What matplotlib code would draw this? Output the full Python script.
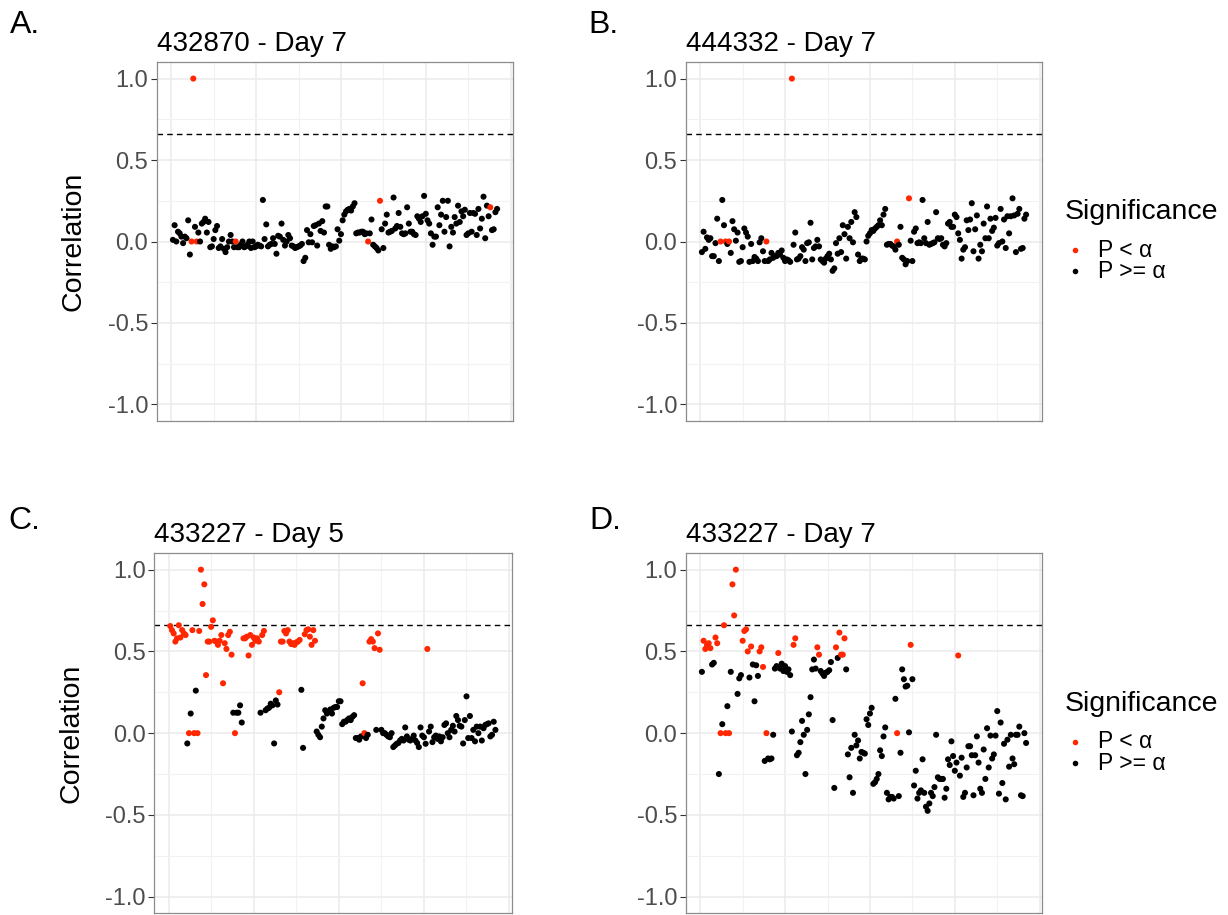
import matplotlib
matplotlib.use("Agg")
import matplotlib.pyplot as plt
from matplotlib.lines import Line2D
import numpy as np

plt.rcParams['font.family'] = ['Liberation Sans', 'DejaVu Sans']

# ---------------- data ----------------
titles = ["432870 - Day 7", "444332 - Day 7", "433227 - Day 5", "433227 - Day 7"]
panel_tags = ["A.", "B.", "C.", "D."]
threshold = 0.66
y_label = "Correlation"
legend_title = "Significance"
legend_labels = ["P < \u03b1", "P >= \u03b1"]

corr_a = [0.01, 0.10, 0.00, 0.06, 0.05, 0.03, -0.01, 0.03, 0.02, 0.13,
          -0.08, 0.00, 1.00, 0.09, 0.00, 0.055, 0.00, 0.11, 0.12, 0.14,
          0.055, 0.12, -0.035, -0.03, 0.015, 0.07, 0.095, -0.04, -0.03, 0.015,
          -0.045, -0.065, -0.035, 0.0, 0.04, 0.0, -0.035, 0.0, -0.035, -0.035,
          -0.02, 0.0, -0.035, -0.03, -0.02, 0.0, -0.04, 0.0, -0.035, -0.03,
          -0.02, -0.025, -0.03, 0.255, 0.015, 0.105, -0.03, -0.02, -0.015, 0.02,
          -0.015, -0.075, 0.035, 0.03, 0.11, 0.01, -0.025, 0.0, 0.04, 0.02,
          -0.025, -0.03, -0.04, -0.035, -0.03, -0.025, -0.015, -0.12, -0.10, 0.07,
          -0.005, 0.045, -0.005, 0.095, 0.10, -0.025, 0.11, 0.065, 0.125, 0.055,
          0.215, 0.215, -0.02, -0.045, -0.03, -0.035, -0.03, 0.075, 0.005, 0.045,
          0.13, 0.165, 0.185, 0.195, 0.20, 0.19, 0.215, 0.235, 0.05, 0.055,
          0.055, 0.06, 0.06, 0.045, 0.05, 0.0, 0.05, 0.135, -0.02, -0.03,
          -0.04, -0.055, 0.25, 0.075, -0.04, 0.11, 0.165, 0.055, 0.06, 0.065,
          0.27, 0.08, 0.095, 0.175, 0.09, 0.05, 0.045, 0.05, 0.21, 0.11,
          0.06, 0.06, 0.045, 0.04, 0.155, 0.14, 0.12, 0.155, 0.28, 0.17,
          0.13, 0.11, 0.05, -0.02, 0.03, 0.03, 0.21, 0.10, 0.165, 0.25,
          0.06, 0.15, 0.25, -0.03, 0.09, 0.055, 0.15, 0.11, 0.22, 0.12,
          0.185, 0.155, 0.195, 0.04, 0.05, 0.175, 0.06, 0.175, 0.17, 0.04,
          0.20, 0.08, 0.14, 0.275, 0.02, 0.22, 0.155, 0.21, 0.07, 0.075,
          0.18, 0.20]
sig_a = [12, 13, 15, 38, 116, 123, 188]

corr_b = [-0.065, 0.06, -0.045, 0.025, 0.01, 0.02, -0.09, -0.09, -0.01, 0.14,
          -0.12, 0.0, 0.255, 0.10, 0.0, -0.015, 0.0, -0.07, 0.125, 0.075,
          0.005, 0.055, -0.125, -0.12, -0.035, 0.08, 0.055, 0.03, -0.125, -0.015,
          -0.12, -0.095, -0.105, -0.12, -0.005, 0.02, -0.06, -0.12, 0.0, -0.12,
          -0.11, -0.07, -0.10, -0.09, -0.09, -0.07, -0.08, -0.055, -0.10, -0.12,
          -0.11, -0.115, -0.125, 1.0, -0.02, 0.055, -0.11, -0.105, -0.09, -0.035,
          -0.05, -0.12, -0.01, -0.005, 0.115, -0.11, -0.04, -0.03, 0.01, -0.03,
          -0.11, -0.12, -0.13, -0.105, -0.09, -0.075, -0.11, -0.18, -0.165, -0.01,
          -0.075, 0.02, -0.065, 0.10, 0.045, -0.105, 0.09, 0.02, 0.12, -0.005,
          0.18, 0.15, -0.08, -0.12, -0.105, -0.105, -0.11, 0.0, 0.035, 0.05,
          0.07, 0.065, 0.08, 0.09, 0.10, 0.13, 0.10, 0.165, 0.20, -0.02,
          -0.015, -0.015, -0.025, -0.03, -0.05, 0.0, -0.02, 0.09, -0.10, -0.11,
          -0.14, -0.12, 0.265, 0.005, -0.12, 0.06, 0.08, -0.01, -0.005, -0.01,
          0.255, 0.02, -0.01, 0.12, -0.02, -0.015, -0.01, -0.005, 0.18, 0.02,
          0.015, 0.02, -0.02, -0.03, -0.01, 0.11, 0.12, 0.09, 0.09, 0.165,
          0.15, 0.05, 0.01, -0.105, -0.05, -0.035, 0.13, 0.07, 0.135, 0.235,
          -0.06, 0.075, 0.16, -0.105, -0.02, -0.06, 0.11, 0.02, 0.215, 0.02,
          0.14, 0.065, 0.085, 0.145, -0.025, -0.01, 0.20, 0.0, 0.135, -0.04,
          0.155, 0.05, 0.155, 0.265, 0.16, -0.065, 0.17, 0.20, -0.045, -0.04,
          0.14, 0.165]
sig_b = [12, 15, 17, 39, 54, 116, 123]

corr_c = [0.655, 0.63, 0.61, 0.56, 0.58, 0.66, 0.585, 0.63, 0.61, 0.60,
          -0.063, 0.0, 0.12, 0.63, 0.0, 0.26, 0.0, 0.625, 1.0, 0.79,
          0.91, 0.355, 0.56, 0.56, 0.65, 0.69, 0.565, 0.56, 0.54, 0.565,
          0.60, 0.305, 0.55, 0.515, 0.60, 0.62, 0.48, 0.125, 0.0, 0.125,
          0.125, 0.17, 0.065, 0.58, 0.58, 0.59, 0.475, 0.60, 0.54, 0.585,
          0.565, 0.58, 0.56, 0.125, 0.60, 0.625, 0.14, 0.15, 0.155, 0.18,
          0.17, -0.063, 0.20, 0.175, 0.25, 0.56, 0.56, 0.625, 0.61, 0.63,
          0.56, 0.545, 0.55, 0.54, 0.555, 0.56, 0.57, 0.265, -0.09, 0.605,
          0.63, 0.635, 0.59, 0.54, 0.63, 0.565, 0.01, -0.01, -0.025, 0.04,
          0.09, 0.14, 0.12, 0.13, 0.145, 0.12, 0.155, 0.16, 0.16, 0.195,
          0.195, 0.055, 0.07, 0.07, 0.08, 0.09, 0.08, 0.10, 0.11, -0.03,
          -0.03, -0.04, -0.02, 0.305, 0.0, -0.03, -0.01, 0.56, 0.575, 0.56,
          0.52, 0.02, 0.61, 0.51, 0.02, 0.0, 0.0, -0.01, -0.02, -0.025,
          0.0, -0.085, -0.075, -0.065, -0.06, -0.045, -0.035, -0.045, 0.035, -0.02,
          -0.04, -0.045, -0.035, -0.015, -0.045, -0.06, -0.085, 0.035, -0.015, -0.025,
          -0.065, 0.515, 0.01, 0.04, -0.055, -0.025, -0.015, -0.035, -0.02, -0.05,
          -0.025, 0.05, 0.06, 0.0, -0.025, 0.02, 0.045, 0.01, 0.105, 0.08,
          0.045, 0.04, -0.063, 0.08, 0.225, -0.03, 0.105, -0.03, 0.02, -0.05,
          0.04, 0.0, 0.04, -0.045, 0.03, 0.05, 0.055, 0.06, -0.02, -0.01,
          0.07, 0.02]
sig_c = [1, 2, 3, 4, 5, 6, 7, 8, 9, 10, 12, 14, 15, 17, 18, 19, 20, 21, 22, 23,
         24, 25, 26, 27, 28, 29, 30, 31, 32, 33, 34, 35, 36, 37, 39, 44, 45, 46,
         47, 48, 49, 50, 51, 52, 53, 55, 56, 65, 66, 67, 68, 69, 70, 71, 72, 73,
         74, 75, 76, 77, 80, 81, 82, 83, 84, 85, 86, 114, 115, 118, 119, 120,
         121, 123, 124, 152]

corr_d = [0.375, 0.565, 0.515, 0.54, 0.55, 0.52, 0.42, 0.43, 0.585, 0.55,
          -0.25, 0.0, 0.055, 0.66, 0.0, 0.165, 0.0, 0.375, 0.91, 0.72,
          1.0, 0.24, 0.335, 0.355, 0.565, 0.625, 0.635, 0.50, 0.34, 0.53,
          0.42, 0.195, 0.415, 0.35, 0.50, 0.525, 0.405, -0.17, 0.0, -0.155,
          -0.16, -0.155, -0.01, 0.395, 0.41, 0.49, 0.395, 0.425, 0.38, 0.41,
          0.375, 0.39, 0.355, 0.01, 0.54, 0.58, -0.135, -0.12, -0.055, 0.075,
          -0.01, -0.25, 0.02, 0.115, 0.22, 0.39, 0.45, 0.395, 0.525, 0.48,
          0.38, 0.365, 0.35, 0.37, 0.375, 0.385, 0.435, 0.08, -0.335, 0.525,
          0.46, 0.615, 0.48, 0.48, 0.58, 0.39, -0.13, -0.27, -0.09, -0.365,
          -0.01, -0.075, -0.045, -0.155, -0.115, -0.12, -0.125, 0.085, 0.05, 0.12,
          0.155, -0.31, -0.30, -0.28, -0.25, -0.105, -0.14, -0.02, 0.035, -0.365,
          -0.405, -0.39, -0.39, -0.40, 0.21, 0.0, -0.385, -0.12, 0.39, 0.33,
          0.285, 0.29, 0.005, 0.54, 0.33, -0.32, -0.23, -0.40, -0.365, -0.35,
          -0.16, -0.365, -0.45, -0.475, -0.43, -0.365, -0.385, -0.33, -0.01, -0.27,
          -0.28, -0.28, -0.28, -0.395, -0.34, -0.16, -0.195, -0.05, -0.14, -0.23,
          -0.18, 0.475, -0.26, -0.15, -0.39, -0.365, -0.21, -0.08, -0.08, -0.135,
          -0.38, -0.135, -0.02, -0.18, -0.34, -0.365, -0.10, -0.28, 0.03, -0.21,
          -0.015, -0.155, -0.13, -0.015, 0.135, -0.37, 0.065, -0.305, -0.065, -0.405,
          -0.04, -0.205, -0.01, -0.155, -0.19, -0.01, -0.01, 0.04, -0.38, -0.385,
          0.0, -0.06]
sig_d = [2, 3, 4, 5, 6, 9, 10, 12, 14, 15, 17, 19, 20, 21, 25, 26, 27, 28, 30,
         35, 36, 37, 39, 46, 55, 56, 69, 70, 80, 82, 83, 84, 85, 116, 124, 152]

panels = [(corr_a, sig_a), (corr_b, sig_b), (corr_c, sig_c), (corr_d, sig_d)]

# ---------------- layout ----------------
W, H = 1228, 915
fig = plt.figure(figsize=(W / 100, H / 100), dpi=100)
fig.patch.set_facecolor("white")

def rect(l, t, r, b):
    return [l / W, 1 - b / H, (r - l) / W, (b - t) / H]

boxes = [(156.7, 62.3, 513.3, 420.7), (685.7, 62.3, 1042.3, 420.7),
         (154.0, 553.3, 511.7, 913.0), (685.7, 553.3, 1042.3, 913.0)]
tag_pos = [(10, 33), (588, 33), (8, 529), (589, 529)]
ylabel_x = {0: 73.5, 2: 71.0}

RED = "#FF2600"
GRID = "#EBEBEB"

for k, ((vals, sig), box) in enumerate(zip(panels, boxes)):
    ax = fig.add_axes(rect(*box))
    n = len(vals)
    x = np.arange(1, n + 1)
    y = np.array(vals)
    sigset = set(sig)
    cols = [RED if i in sigset else "black" for i in x]
    pad = 0.05 * (n - 1)
    ax.set_xlim(1 - pad, n + pad)
    ax.set_ylim(-1.1, 1.1)
    ax.set_xticks([0, 50, 100, 150, 200])
    ax.set_xticks([25, 75, 125, 175], minor=True)
    ax.set_yticks([-1.0, -0.5, 0.0, 0.5, 1.0])
    ax.set_yticks([-0.75, -0.25, 0.25, 0.75], minor=True)
    ax.set_yticklabels(["-1.0", "-0.5", "0.0", "0.5", "1.0"])
    ax.grid(which="major", color=GRID, linewidth=1.1, zorder=0)
    ax.grid(which="minor", color="#F2F2F2", linewidth=0.8, zorder=0)
    ax.set_axisbelow(True)
    ax.tick_params(axis="x", which="both", length=0, labelbottom=False)
    ax.tick_params(axis="y", which="major", length=4.5, width=0.8, color="#333333",
                   labelsize=17, labelcolor="#4D4D4D", pad=1.5)
    ax.tick_params(axis="y", which="minor", length=0)
    for s in ax.spines.values():
        s.set_color("#8C8C8C")
        s.set_linewidth(0.9)
    ax.axhline(threshold, color="black", linewidth=1.0, linestyle=(0, (4, 3)), zorder=2)
    ax.scatter(x, y, c=cols, s=19, linewidths=0, zorder=3)
    ax.set_title(titles[k], loc="left", fontsize=20, pad=8)
    if k in ylabel_x:
        cy = (box[1] + box[3]) / 2
        fig.text(ylabel_x[k] / W, 1 - cy / H, y_label, fontsize=20.5, rotation=90,
                 ha="center", va="center")
    fig.text(tag_pos[k][0] / W, 1 - tag_pos[k][1] / H, panel_tags[k],
             fontsize=23, ha="left", va="baseline")

# legends
for ytitle in (212, 704):
    fig.text(1065 / W, 1 - ytitle / H, legend_title, fontsize=20.5, ha="left", va="center")
    for j, (lab, col) in enumerate(zip(legend_labels, [RED, "black"])):
        yy = ytitle + 38 + j * 21
        fig.add_artist(Line2D([1075 / W], [1 - yy / H], marker="o", markersize=4.0,
                              markerfacecolor=col, markeredgewidth=0, linestyle="none",
                              transform=fig.transFigure))
        fig.text(1098 / W, 1 - yy / H, lab, fontsize=16.5, ha="left", va="center")

fig.savefig("out.png", dpi=100, facecolor="white")
